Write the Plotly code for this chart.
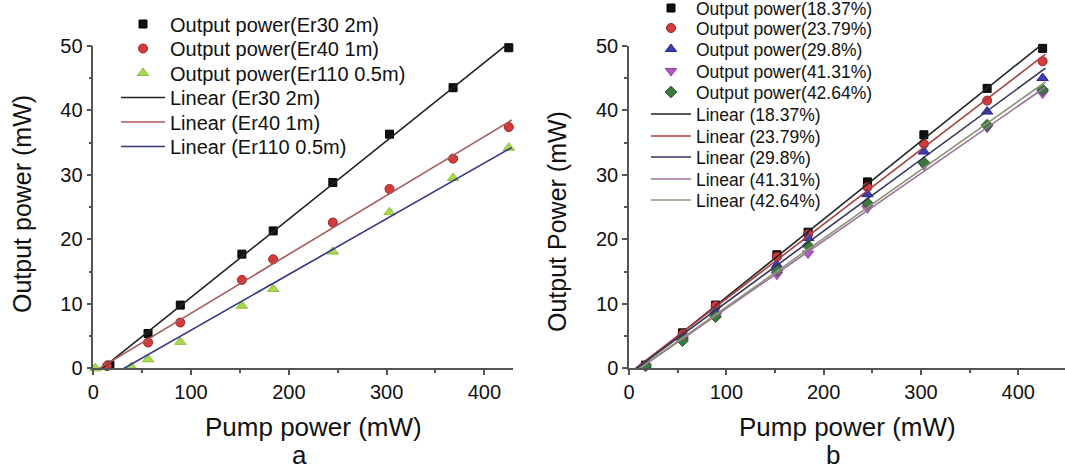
import numpy as np
import plotly.graph_objects as go

# ---------------- data: panel a ----------------
a_names = ["Er30 2m", "Er40 1m", "Er110 0.5m"]
a_x_er30 = [17, 56, 89, 152, 184, 245, 303, 368, 425]
a_y_er30 = [0.5, 5.4, 9.8, 17.7, 21.3, 28.8, 36.3, 43.5, 49.7]
a_x_er40 = [14, 56, 89, 152, 184, 245, 303, 368, 425]
a_y_er40 = [0.35, 4.0, 7.1, 13.7, 16.9, 22.6, 27.8, 32.5, 37.4]
a_x_er110 = [2, 39, 56, 89, 152, 184, 245, 303, 368, 425]
a_y_er110 = [0.0, 0.2, 1.4, 4.1, 9.7, 12.3, 18.1, 24.2, 29.5, 34.2]

# ---------------- data: panel b ----------------
b_names = ["18.37%", "23.79%", "29.8%", "41.31%", "42.64%"]
b_x = [17, 55, 89, 152, 184, 245, 303, 368, 425]
b_y_1837 = [0.5, 5.5, 9.8, 17.6, 21.1, 28.9, 36.2, 43.4, 49.6]
b_y_2379 = [0.4, 5.3, 9.7, 17.3, 20.8, 28.1, 34.8, 41.5, 47.6]
b_y_2980 = [0.4, 5.0, 8.8, 16.0, 20.2, 27.0, 33.6, 39.8, 45.0]
b_y_4131 = [0.3, 4.6, 8.3, 14.5, 17.8, 24.8, 31.5, 37.3, 42.6]
b_y_4264 = [0.4, 4.3, 8.0, 15.2, 19.0, 25.6, 31.9, 37.7, 43.2]

fit_x_end = 428
x_ticks = [0, 100, 200, 300, 400]
y_ticks = [0, 10, 20, 30, 40, 50]

W, H = 1065, 472
FONT = "Arial, Liberation Sans, sans-serif"

fig = go.Figure()
legend_layout = {}
leg_count = [0]


def new_legend(x_px, y_center_px, size, itemwidth):
    leg_count[0] += 1
    key = "legend" if leg_count[0] == 1 else f"legend{leg_count[0]}"
    top = y_center_px - (1.3 * size + 3) / 2
    legend_layout[key] = dict(
        x=x_px / W, y=1 - top / H, xanchor="left", yanchor="top",
        bgcolor="rgba(0,0,0,0)", borderwidth=0, itemwidth=itemwidth,
        font=dict(family=FONT, size=size, color="#111111"))
    return key


def add_points(x, y, name, symbol, color, edge, size, xa, ya, leg):
    fig.add_trace(go.Scatter(
        x=x, y=y, mode="markers", name=name,
        marker=dict(symbol=symbol, color=color, size=size,
                    line=dict(color=edge, width=1)),
        xaxis=xa, yaxis=ya, legend=leg, cliponaxis=False))


def add_fit(x, y, name, color, xa, ya, leg):
    k, b = np.polyfit(x, y, 1)
    xs = np.array([0.0, fit_x_end])
    fig.add_trace(go.Scatter(
        x=xs, y=k * xs + b, mode="lines", name=name,
        line=dict(color=color, width=1.6),
        xaxis=xa, yaxis=ya, legend=leg))


# ---- panel a ----
a_sets = [(a_x_er30, a_y_er30), (a_x_er40, a_y_er40), (a_x_er110, a_y_er110)]
a_marker = [("square", "#111111", "#000000", 8),
            ("circle", "#d43c3c", "#a02020", 9),
            ("triangle-up", "#a8d84c", "#90c040", 10)]
a_line_col = ["#222222", "#a85858", "#34348a"]
a_rows = [19 + 24.5 * i for i in range(6)]
row = 0
for (x, y), nm, (sym, c, e, s) in zip(a_sets, a_names, a_marker):
    leg = new_legend(116, a_rows[row], 20, 44); row += 1
    add_points(x, y, f"Output power({nm})", sym, c, e, s, "x", "y", leg)
for (x, y), nm, c in zip(a_sets, a_names, a_line_col):
    leg = new_legend(116, a_rows[row], 20, 44); row += 1
    add_fit(x, y, f"Linear ({nm})", c, "x", "y", leg)

# ---- panel b ----
b_sets = [b_y_1837, b_y_2379, b_y_2980, b_y_4131, b_y_4264]
b_marker = [("square", "#111111", "#000000", 8),
            ("circle", "#d43c3c", "#a02020", 9),
            ("triangle-up", "#3c3cb4", "#2a2a90", 10),
            ("triangle-down", "#b458c4", "#9040a0", 10),
            ("diamond", "#3a7a3a", "#2a5a2a", 9)]
b_line_col = ["#222222", "#a84040", "#34345a", "#9a709a", "#8c9478"]
b_rows = [3, 23, 44, 66, 87, 109, 131, 152, 174, 195]
row = 0
for y, nm, (sym, c, e, s) in zip(b_sets, b_names, b_marker):
    leg = new_legend(646, b_rows[row], 17.5, 40); row += 1
    add_points(b_x, y, f"Output power({nm})", sym, c, e, s, "x2", "y2", leg)
for y, nm, c in zip(b_sets, b_names, b_line_col):
    leg = new_legend(646, b_rows[row], 17.5, 40); row += 1
    add_fit(b_x, y, f"Linear ({nm})", c, "x2", "y2", leg)

ytop, ybot = 45.8, 368.3
ydom = [1 - ybot / H, 1 - ytop / H]

axis_common = dict(
    showline=True, linecolor="#555555", linewidth=1.5,
    ticks="outside", ticklen=5, tickwidth=1.5, tickcolor="#555555",
    showgrid=False, zeroline=False, automargin=False,
    tickfont=dict(family=FONT, size=20, color="#111111"),
)

fig.update_layout(
    width=W, height=H,
    margin=dict(l=0, r=0, t=0, b=0, autoexpand=False),
    paper_bgcolor="white", plot_bgcolor="white",
    xaxis=dict(domain=[93.3 / W, 512.7 / W], range=[0, 429], anchor="y",
               tickvals=x_ticks,
               minor=dict(ticks="outside", ticklen=3, dtick=50, tickcolor="#555555"),
               **axis_common),
    yaxis=dict(domain=ydom, range=[0, 50], anchor="x", tickvals=y_ticks,
               minor=dict(ticks="outside", ticklen=3, dtick=5, tickcolor="#555555"),
               **axis_common),
    xaxis2=dict(domain=[629 / W, 1.0], range=[0, 448], anchor="y2",
                tickvals=x_ticks,
                minor=dict(ticks="outside", ticklen=3, dtick=50, tickcolor="#555555"),
                **axis_common),
    yaxis2=dict(domain=ydom, range=[0, 50], anchor="x2", tickvals=y_ticks,
                minor=dict(ticks="outside", ticklen=3, dtick=5, tickcolor="#555555"),
                **axis_common),
    showlegend=True,
    **legend_layout,
)

ann = [
    dict(text="Pump power (mW)", x=313 / W, y=1 - 427 / H, size=26, angle=0),
    dict(text="Pump power (mW)", x=847 / W, y=1 - 427 / H, size=26, angle=0),
    dict(text="Output power (mW)", x=22 / W, y=1 - 204 / H, size=25, angle=-90),
    dict(text="Output Power (mW)", x=557 / W, y=1 - 222 / H, size=25, angle=-90),
    dict(text="a", x=299 / W, y=1 - 455 / H, size=26, angle=0),
    dict(text="b", x=833 / W, y=1 - 455 / H, size=26, angle=0),
]
for a in ann:
    fig.add_annotation(text=a["text"], x=a["x"], y=a["y"], xref="paper", yref="paper",
                       xanchor="center", yanchor="middle", showarrow=False,
                       textangle=a["angle"],
                       font=dict(family=FONT, size=a["size"], color="#111111"))

fig.write_html(
    "out.html",
    config={"displayModeBar": False},
    post_script="document.body.style.margin='0';document.body.style.overflow='hidden';",
)
